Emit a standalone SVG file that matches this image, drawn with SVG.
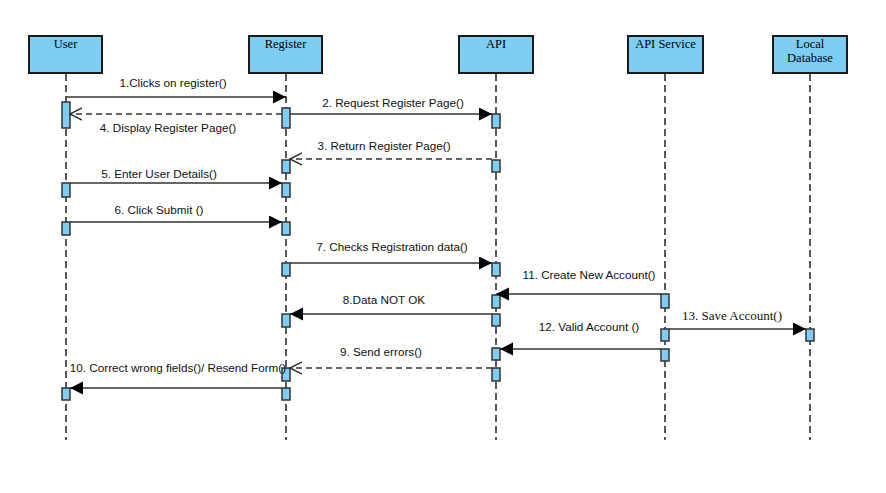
<svg xmlns="http://www.w3.org/2000/svg" width="886" height="493" viewBox="0 0 886 493">
<style>
.hd{fill:#7ecef4;stroke:#1a1a1a;stroke-width:2}
.ht{font-family:"Liberation Serif",serif;font-size:12.5px;fill:#000;text-anchor:middle}
.ll{stroke:#222;stroke-width:1.5;stroke-dasharray:7 4;fill:none}
.act{fill:#7ecef4;stroke:#333;stroke-width:1.5}
.m{stroke:#333;stroke-width:1.5;fill:none}
.sync{marker-end:url(#tri)}
.ret{stroke-dasharray:6 4;marker-end:url(#open)}
.lb{font-family:"Liberation Sans",Arial,sans-serif;font-size:11.7px;fill:#111;text-anchor:middle}
.lbs{font-family:"Liberation Serif",serif;font-size:13px;fill:#111;text-anchor:middle}
</style>
<defs>
<marker id="tri" markerUnits="userSpaceOnUse" markerWidth="14" markerHeight="14" refX="13" refY="6.5" orient="auto">
<path d="M0,0 L13,6.5 L0,13 Z" fill="#000"/>
</marker>
<marker id="open" markerUnits="userSpaceOnUse" markerWidth="14" markerHeight="14" refX="12" refY="6.5" orient="auto">
<path d="M0,0.5 L12,6.5 L0,12.5" fill="none" stroke="#333" stroke-width="1.5"/>
</marker>
</defs>
<rect width="886" height="493" fill="#fff"/>

<g id="user">
<rect class="hd" x="29" y="36" width="73" height="37"/>
<text class="ht" x="65.5" y="48">User</text>
<line class="ll" x1="66" y1="74" x2="66" y2="440"/>
<rect class="act" x="62" y="102" width="8" height="26"/>
<rect class="act" x="62" y="183" width="8" height="14"/>
<rect class="act" x="62" y="222" width="8" height="13"/>
<rect class="act" x="62" y="388" width="8" height="12"/>
</g>
<g id="register">
<rect class="hd" x="249" y="36" width="73" height="37"/>
<text class="ht" x="285.5" y="48">Register</text>
<line class="ll" x1="286" y1="74" x2="286" y2="440"/>
<rect class="act" x="282" y="108" width="8" height="20"/>
<rect class="act" x="282" y="160" width="8" height="13"/>
<rect class="act" x="282" y="183" width="8" height="14"/>
<rect class="act" x="282" y="222" width="8" height="13"/>
<rect class="act" x="282" y="263" width="8" height="13"/>
<rect class="act" x="282" y="314" width="8" height="13"/>
<rect class="act" x="282" y="368" width="8" height="13"/>
<rect class="act" x="282" y="388" width="8" height="12"/>
</g>
<g id="api">
<rect class="hd" x="459" y="36" width="74" height="37"/>
<text class="ht" x="496" y="48">API</text>
<line class="ll" x1="496" y1="74" x2="496" y2="440"/>
<rect class="act" x="492" y="114" width="8" height="14"/>
<rect class="act" x="492" y="160" width="8" height="12"/>
<rect class="act" x="492" y="263" width="8" height="13"/>
<rect class="act" x="492" y="295" width="8" height="13"/>
<rect class="act" x="492" y="314" width="8" height="12"/>
<rect class="act" x="492" y="348" width="8" height="12"/>
<rect class="act" x="492" y="368" width="8" height="13"/>
</g>
<g id="apiservice">
<rect class="hd" x="628" y="36" width="75" height="37"/>
<text class="ht" x="665.5" y="48">API Service</text>
<line class="ll" x1="665" y1="74" x2="665" y2="440"/>
<rect class="act" x="661" y="294" width="8" height="14"/>
<rect class="act" x="661" y="329" width="8" height="12"/>
<rect class="act" x="661" y="349" width="8" height="12"/>
</g>
<g id="localdb">
<rect class="hd" x="773" y="36" width="74" height="37"/>
<text class="ht" x="810" y="48">Local</text>
<text class="ht" x="810" y="62">Database</text>
<line class="ll" x1="810" y1="74" x2="810" y2="440"/>
<rect class="act" x="806" y="329" width="8" height="12"/>
</g>

<g id="connectors">
<line class="m sync" x1="66" y1="97" x2="286" y2="97"/>
<text class="lb" x="173" y="87">1.Clicks on register()</text>
<line class="m sync" x1="290" y1="114" x2="492" y2="114"/>
<text class="lb" x="393" y="107">2. Request Register Page()</text>
<line class="m ret" x1="282" y1="114" x2="70" y2="114"/>
<text class="lb" x="168" y="132">4. Display Register Page()</text>
<line class="m ret" x1="492" y1="159" x2="290" y2="159"/>
<text class="lb" x="384" y="150">3. Return Register Page()</text>
<line class="m sync" x1="70" y1="183" x2="282" y2="183"/>
<text class="lb" x="159" y="178">5. Enter User Details()</text>
<line class="m sync" x1="70" y1="222" x2="282" y2="222"/>
<text class="lb" x="159" y="214">6. Click Submit ()</text>
<line class="m sync" x1="290" y1="263" x2="492" y2="263"/>
<text class="lb" x="392" y="251">7. Checks Registration data()</text>
<line class="m sync" x1="661" y1="294" x2="496" y2="294"/>
<text class="lb" x="589" y="279">11. Create New Account()</text>
<line class="m sync" x1="492" y1="314" x2="290" y2="314"/>
<text class="lb" x="384" y="304">8.Data NOT OK</text>
<line class="m sync" x1="669" y1="329" x2="806" y2="329"/>
<text class="lbs" x="732" y="320">13. Save Account()</text>
<line class="m sync" x1="661" y1="349" x2="500" y2="349"/>
<text class="lb" x="589" y="331">12. Valid Account ()</text>
<line class="m ret" x1="492" y1="368" x2="290" y2="368"/>
<text class="lb" x="381" y="356">9. Send errors()</text>
<line class="m sync" x1="282" y1="388" x2="70" y2="388"/>
<text class="lb" x="178" y="372">10. Correct wrong fields()/ Resend Form()</text>
</g>
</svg>
